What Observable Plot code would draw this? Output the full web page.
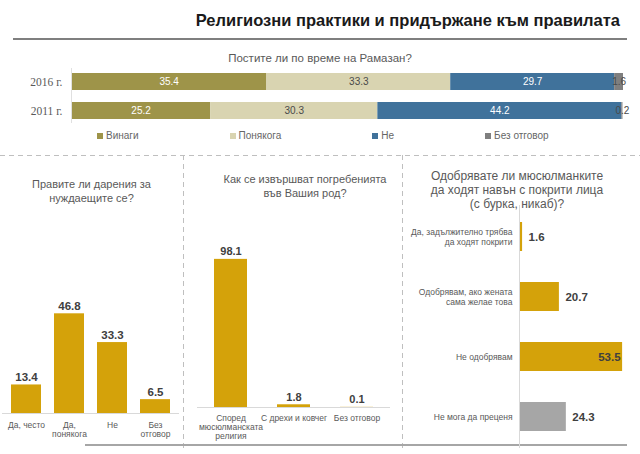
<!DOCTYPE html>
<html><head><meta charset="utf-8">
<script src="https://cdn.jsdelivr.net/npm/d3@7"></script>
<script src="https://cdn.jsdelivr.net/npm/@observablehq/plot@0.6"></script>
<style>
body{margin:0;background:#fff;}
#wrap{position:relative;width:640px;height:454px;overflow:hidden;font-family:"Liberation Sans",Arial,sans-serif;}
.abs{position:absolute;}
.t{position:absolute;text-align:center;color:#595959;white-space:nowrap;width:300px;}
.hd{background:repeating-linear-gradient(to right,#bfbfbf 0 5px,transparent 5px 9px);height:1px;}
.vd{background:repeating-linear-gradient(to bottom,#bfbfbf 0 5px,transparent 5px 9px);width:1px;}
.lg-swatches,.lg-swatches-wrap{min-height:0 !important;margin:0 !important;flex-wrap:nowrap !important;width:560px;white-space:nowrap;}
.lg-swatch{margin-right:91px !important;white-space:nowrap;}
.lg-swatch svg{margin-right:3px !important;}
</style></head><body><div id="wrap"></div>
<script>
// ---------- data ----------
const mainTitle = "Религиозни практики и придържане към правилата";
const fastTitle = "Постите ли по време на Рамазан?";
const years = ["2016 г.", "2011 г."];
const fastCats = ["Винаги", "Понякога", "Не", "Без отговор"];
const fast2016 = [35.4, 33.3, 29.7, 1.6];
const fast2011 = [25.2, 30.3, 44.2, 0.2];
const fastColors = ["#9e9449", "#d9d4b1", "#40729b", "#7f7f7f"];

const donTitle = "Правите ли дарения за\nнуждаещите се?";
const donCats = ["Да, често", "Да,\nпонякога", "Не", "Без\nотговор"];
const donValues = [13.4, 46.8, 33.3, 6.5];

const burTitle = "Как се извършват погребенията\nвъв Вашия род?";
const burCats = ["Според\nмюсюлманската\nрелигия", "С дрехи и ковчег", "Без отговор"];
const burValues = [98.1, 1.8, 0.1];

const veilTitle = "Одобрявате ли мюсюлманките\nда ходят навън с покрити лица\n(с бурка, никаб)?";
const veilCats = ["Да, задължително трябва\nда ходят покрити", "Одобрявам, ако жената\nсама желае това", "Не одобрявам", "Не мога да преценя"];
const veilValues = [1.6, 20.7, 53.5, 24.3];
const veilColors = ["#d4a20a", "#d4a20a", "#d4a20a", "#a6a6a6"];

const gold = "#d4a20a";
const font = "Liberation Sans";

// ---------- layout helpers ----------
const wrap = document.getElementById("wrap");
function place(el, left, top) {
  el.style.position = "absolute"; el.style.left = left + "px"; el.style.top = top + "px";
  wrap.appendChild(el); return el;
}
function div(cls, css) { const d = document.createElement("div"); d.className = cls; Object.assign(d.style, css); wrap.appendChild(d); return d; }
function textBlock(txt, cx, top, size, lh, extra = {}) {
  const d = div("t", {left: (cx - 150) + "px", top: top + "px", fontSize: size + "px", lineHeight: lh + "px", ...extra});
  d.innerHTML = txt.split("\n").join("<br>");
  return d;
}

// ---------- header ----------
const h = div("abs", {right: "20px", top: "11px", fontSize: "16.5px", fontWeight: "bold", color: "#1a1a1a", whiteSpace: "nowrap"});
h.textContent = mainTitle;
div("abs", {left: "13px", top: "38px", width: "614px", height: "2px", background: "#7f7f7f"});
textBlock(fastTitle, 320, 51, 11.5, 14);

// ---------- top stacked bars ----------
const fastData = years.flatMap((y, i) => fastCats.map((c, j) => ({year: y, cat: c, value: (i ? fast2011 : fast2016)[j]})));
const light = ["Винаги", "Не"];
const topPlot = Plot.plot({
  width: 640, height: 76, marginLeft: 71, marginRight: 17, marginTop: 12, marginBottom: 9,
  style: {fontFamily: font, background: "transparent", overflow: "visible"},
  x: {domain: [0, 100], axis: null},
  y: {domain: years, paddingInner: 0.42, paddingOuter: 0.15, axis: null},
  color: {domain: fastCats, range: fastColors},
  marks: [
    Plot.barX(fastData, Plot.stackX({x: "value", y: "year", fill: "cat"})),
    Plot.ruleX([0], {stroke: "#e0e0e0"}),
    Plot.text(fastData, Plot.stackX({x: "value", y: "year", z: "cat", text: d => light.includes(d.cat) ? d.value.toFixed(1) : "", fill: "#ffffff", fontSize: 10})),
    Plot.text(fastData, Plot.stackX({x: "value", y: "year", z: "cat", text: d => light.includes(d.cat) ? "" : d.value.toFixed(1), fill: "#4a4a4a", fontSize: 10})),
    Plot.text(years, {y: d => d, frameAnchor: "left", textAnchor: "end", dx: -9, fontFamily: "Liberation Serif", fontSize: 11.5, fill: "#595959"})
  ]
});
place(topPlot, 0, 56);

const legend = Plot.legend({color: {domain: fastCats, range: fastColors}, swatchSize: 6, className: "lg",
  style: {fontFamily: font, fontSize: "10px", color: "#666", width: "560px", flexWrap: "nowrap"}});
place(legend, 97, 130);

// ---------- separators ----------
div("abs hd", {left: "0px", top: "155px", width: "640px"});
div("abs vd", {left: "183px", top: "155px", height: "295px"});
div("abs vd", {left: "402px", top: "155px", height: "295px"});
div("abs", {left: "85px", top: "444px", width: "542px", height: "2px", background: "#a6a6a6"});

// ---------- panel 1: donations ----------
textBlock(donTitle, 91.5, 178, 11, 13.5);
const p1 = Plot.plot({
  width: 183, height: 158, marginLeft: 2, marginRight: 4, marginTop: 15, marginBottom: 35,
  style: {fontFamily: font, background: "transparent", overflow: "visible"},
  x: {domain: donCats, paddingInner: 0.31, paddingOuter: 0.2, axis: null},
  y: {domain: [0, 50.7], axis: null},
  marks: [
    Plot.barY(donValues, {x: (d, i) => donCats[i], y: d => d, fill: gold}),
    Plot.ruleY([0], {stroke: "#d9d9d9"}),
    Plot.text(donValues, {x: (d, i) => donCats[i], y: d => d, text: d => d.toFixed(1), lineAnchor: "bottom", dy: -4, fontWeight: "bold", fontSize: 11.5, fill: "#404040"}),
    Plot.text(donCats, {x: d => d, frameAnchor: "bottom", lineAnchor: "top", dy: 8, fontSize: 8.5, lineHeight: 1.1, fill: "#595959"})
  ]
});
place(p1, 0, 290);

// ---------- panel 2: burials ----------
textBlock(burTitle, 305, 172, 11, 14);
const p2 = Plot.plot({
  width: 217, height: 222, marginLeft: 13, marginRight: 11, marginTop: 26, marginBottom: 45,
  style: {fontFamily: font, background: "transparent", overflow: "visible"},
  x: {domain: burCats, paddingInner: 0.48, paddingOuter: 0.25, axis: null},
  y: {domain: [0, 100], axis: null},
  marks: [
    Plot.barY(burValues, {x: (d, i) => burCats[i], y: d => d, fill: gold}),
    Plot.ruleY([0], {stroke: "#d9d9d9"}),
    Plot.text(burValues, {x: (d, i) => burCats[i], y: d => d, text: d => d.toFixed(1), lineAnchor: "bottom", dy: -4, fontWeight: "bold", fontSize: 11, fill: "#404040"}),
    Plot.text(burCats, {x: d => d, frameAnchor: "bottom", lineAnchor: "top", dy: 7, fontSize: 8.5, lineHeight: 1.05, fill: "#595959"})
  ]
});
place(p2, 184, 230);

// ---------- panel 3: veils ----------
textBlock(veilTitle, 517, 169, 12, 14);
const vmax = d3.max(veilValues);
const p3 = Plot.plot({
  width: 238, height: 250, marginLeft: 117, marginRight: 15, marginTop: 5, marginBottom: 2,
  style: {fontFamily: font, background: "transparent", overflow: "visible"},
  x: {domain: [0, 55], axis: null},
  y: {domain: veilCats, paddingInner: 0.51, paddingOuter: 0.25, axis: null},
  marks: [
    Plot.barX(veilValues, {y: (d, i) => veilCats[i], x: d => d, fill: (d, i) => veilColors[i]}),
    Plot.ruleX([0], {stroke: "#d9d9d9"}),
    Plot.text(veilValues, {y: (d, i) => veilCats[i], x: d => d, text: d => d === vmax ? "" : d.toFixed(1), textAnchor: "start", dx: 6, fontWeight: "bold", fontSize: 11.5, fill: "#404040"}),
    Plot.text(veilValues, {y: (d, i) => veilCats[i], x: d => d, text: d => d === vmax ? d.toFixed(1) : "", textAnchor: "end", dx: -2, fontWeight: "bold", fontSize: 11.5, fill: "#404040"}),
    Plot.text(veilCats, {y: d => d, frameAnchor: "left", textAnchor: "end", dx: -7, fontSize: 8.5, lineHeight: 1.1, fill: "#595959"})
  ]
});
place(p3, 402, 200);
</script></body></html>
